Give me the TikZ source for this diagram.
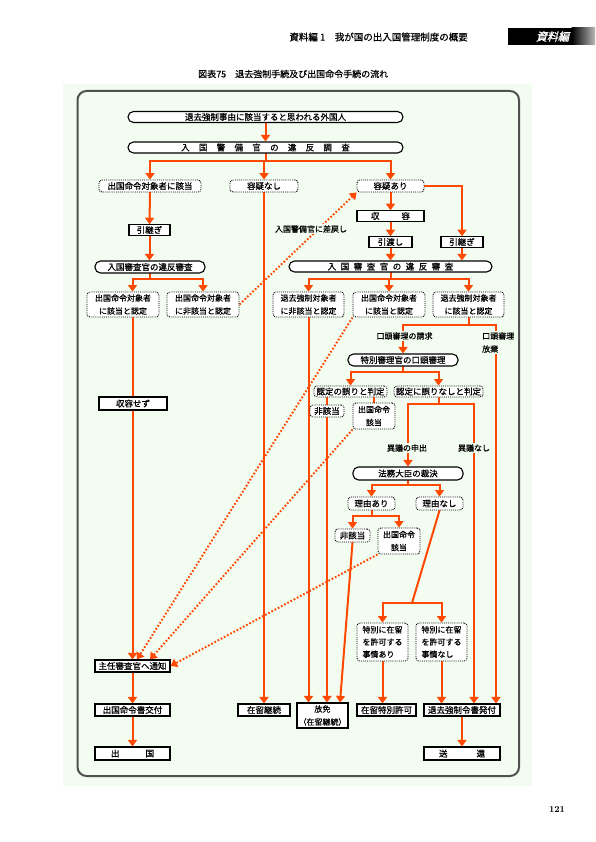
\documentclass[tikz,border=0pt]{standalone}
\usepackage{fontspec}
\newfontfamily\jp[FakeBold=0.6]{Noto Sans CJK JP}
\newfontfamily\jph[FakeBold=0.8]{Noto Sans CJK JP}
\newfontfamily\jpsl[FakeSlant=0.25,FakeBold=1.5]{Noto Sans CJK JP}
\usetikzlibrary{arrows.meta}
\pgfdeclarelayer{back}
\pgfdeclarelayer{lines}
\pgfsetlayers{back,lines,main}
\definecolor{bgg}{RGB}{242,252,240}
\definecolor{org}{RGB}{255,72,0}
\definecolor{frm}{RGB}{80,80,80}
\newcommand\gs{\hspace{9.3pt}}
\newcommand\gsb{\hspace{4.5pt}}
\begin{document}
\begin{tikzpicture}[x=1pt,y=-1pt,
  base/.style={font=\jp\fontsize{8.5}{12}\selectfont, inner sep=0pt, fill=white, line width=1.1pt},
  pill/.style={base, draw, rounded corners=5.5pt, minimum height=11pt},
  sbox/.style={base, draw, minimum height=12pt},
  dbox/.style={base, draw, line width=0.9pt, densely dotted, rounded corners=3pt, align=center},
  two/.style={font=\jp\fontsize{8}{13}\selectfont},
  three/.style={font=\jp\fontsize{8}{12.3}\selectfont},
  lbl/.style={font=\jp\fontsize{8}{13}\selectfont, fill=bgg, inner sep=1pt, align=center},
  ln/.style={draw=org, line width=2pt, line cap=rect},
  arr/.style={ln, -{Triangle[width=9pt,length=6.5pt]}},
  dt/.style={draw=org, line width=2pt, dash pattern=on 1.7pt off 1.9pt, -{Triangle[width=9pt,length=6.5pt]}},
]
\useasboundingbox (0,0) rectangle (595,842);
\begin{pgfonlayer}{back}
\fill[white] (0,0) rectangle (595,842);
\fill[bgg] (63,84) rectangle (532,786);
\draw[frm, line width=2pt, rounded corners=9pt] (77.5,91) rectangle (519,776);
\fill[black] (508,28) rectangle (572,45);
\shade[left color=black, right color=gray!55] (571.5,28) rectangle (595,45);
\end{pgfonlayer}

% header
\node[font=\jph\fontsize{9.5}{11}\selectfont, anchor=east, inner sep=0] (hdr) at (468,37) {資料編 1　我が国の出入国管理制度の概要};
\node[font=\jpsl\fontsize{11}{12}\selectfont, text=white, inner sep=0] (tab) at (552.5,36.5) {資料編};
\node[font=\jp\fontsize{9}{11}\selectfont, anchor=west, inner sep=0] (ttl) at (198,74) {図表75　退去強制手続及び出国命令手続の流れ};
\node[font=\fontsize{9}{11}\selectfont\bfseries, inner sep=0] (pg) at (557,810) {121};

% nodes
\node[pill, minimum width=275pt] (top) at (265.5,117) {退去強制事由に該当すると思われる外国人};
\node[pill, minimum width=275pt] (keibi) at (265.5,147.5) {入\gs 国\gs 警\gs 備\gs 官\gs の\gs 違\gs 反\gs 調\gs 査};
\node[dbox, minimum width=102pt, minimum height=12pt] (Ltop) at (150,186) {出国命令対象者に該当};
\node[dbox, minimum width=68pt, minimum height=12pt] (nashi) at (264,186) {容疑なし};
\node[dbox, minimum width=67pt, minimum height=12pt] (ari) at (390.5,186) {容疑あり};
\node[sbox, minimum width=41pt, minimum height=10.5pt] (hkL) at (149.5,230) {引継ぎ};
\node[sbox, minimum width=67pt, minimum height=10.5pt] (shuyo) at (390.5,216) {収\hspace{22pt}容};
\node[sbox, minimum width=43pt, minimum height=10.5pt] (hkw) at (390.5,242) {引渡し};
\node[sbox, minimum width=42pt, minimum height=10.5pt] (hkR) at (462,242) {引継ぎ};
\node[pill, minimum width=110pt, minimum height=12pt] (shL) at (150,267) {入国審査官の違反審査};
\node[pill, minimum width=203pt] (shM) at (390.5,266.5) {入\gsb 国\gsb 審\gsb 査\gsb 官\gsb の\gsb 違\gsb 反\gsb 審\gsb 査};

\node[dbox, two, minimum width=72pt, minimum height=25pt] (L1) at (123,304.5) {出国命令対象者\\に該当と認定};
\node[dbox, two, minimum width=72pt, minimum height=25pt] (L2) at (203,304.5) {出国命令対象者\\に非該当と認定};
\node[dbox, two, minimum width=71pt, minimum height=25pt] (M1) at (308.5,304.5) {退去強制対象者\\に非該当と認定};
\node[dbox, two, minimum width=72pt, minimum height=25pt] (M2) at (389,304.5) {出国命令対象者\\に該当と認定};
\node[dbox, two, minimum width=71pt, minimum height=25pt] (M3) at (468.5,304.5) {退去強制対象者\\に該当と認定};

\node[lbl] (sashi) at (311,229) {入国警備官に差戻し};
\node[sbox, minimum width=68pt, minimum height=13pt] (sezu) at (133,403.5) {収容せず};
\node[lbl] (seikyu) at (404.5,336) {口頭審理の請求};
\node[lbl, align=left, anchor=west] (hoki) at (481,342.5) {口頭審理\\放棄};

\node[pill, minimum width=110pt, minimum height=12pt] (tok) at (403,360) {特別審理官の口頭審理};
\node[dbox, minimum width=73pt, minimum height=11pt] (n1) at (350.5,391.5) {認定の誤りと判定};
\node[dbox, minimum width=89pt, minimum height=11pt] (n2) at (438.5,391.5) {認定に誤りなしと判定};
\node[dbox, minimum width=34pt, minimum height=12pt] (hi1) at (327,411) {非該当};
\node[dbox, two, minimum width=42pt, minimum height=26pt] (sh1) at (374,416) {出国命令\\該当};
\node[lbl] (igi) at (407,448) {異議の申出};
\node[lbl] (iginashi) at (474,448) {異議なし};
\node[pill, minimum width=110pt, minimum height=13pt] (hm) at (408,473.5) {法務大臣の裁決};
\node[dbox, minimum width=47pt, minimum height=13pt] (ra) at (371.5,503.5) {理由あり};
\node[dbox, minimum width=47pt, minimum height=13pt] (rn) at (439.5,503.5) {理由なし};
\node[dbox, minimum width=35pt, minimum height=13pt] (hi2) at (352.5,535.5) {非該当};
\node[dbox, two, minimum width=42pt, minimum height=26pt] (sh2) at (399,541) {出国命令\\該当};
\node[dbox, three, align=left, minimum width=51pt, minimum height=38pt] (jA) at (382.5,642) {特別に在留\\を許可する\\事情あり};
\node[dbox, three, align=left, minimum width=51pt, minimum height=38pt] (jN) at (441.5,642) {特別に在留\\を許可する\\事情なし};

\node[sbox, minimum width=75pt] (tsu) at (132.5,666) {主任審査官へ通知};
\node[sbox, minimum width=75pt] (kofu) at (132.5,710) {出国命令書交付};
\node[sbox, minimum width=75pt, minimum height=13pt] (shk) at (132.5,753.5) {出\hspace{26pt}国};
\node[sbox, minimum width=52pt] (zk) at (264,710) {在留継続};
\node[sbox, two, align=center, minimum width=51pt, minimum height=25pt] (hmn) at (322.5,715.5) {放免\\（在留継続）};
\node[sbox, minimum width=59pt] (ztk) at (386.5,710) {在留特別許可};
\node[sbox, minimum width=76pt] (tk) at (462,710) {退去強制令書発付};
\node[sbox, minimum width=76pt, minimum height=13pt] (sk) at (462,753.5) {送\hspace{29pt}還};

\coordinate (b1) at (0,161);
\coordinate (b2) at (0,279);
\coordinate (b3) at (0,325);
\coordinate (b4) at (0,372);
\coordinate (b5) at (0,404);
\coordinate (b6) at (0,485);
\coordinate (b7) at (0,516);
\coordinate (b8) at (412,603);
\coordinate (xI) at (474,0);
\coordinate (xR) at (496,0);

\begin{pgfonlayer}{lines}
\draw[arr] (top.south) -- (keibi.north);
\draw[ln] (keibi.south) -- (keibi.south |- b1);
\draw[ln] (Ltop.north |- b1) -- (ari.north |- b1);
\draw[arr] (Ltop.north |- b1) -- (Ltop.north);
\draw[arr] (nashi.north |- b1) -- (nashi.north);
\draw[arr] (ari.north |- b1) -- (ari.north);
\draw[arr] (Ltop.south) -- (hkL.north);
\draw[arr] (hkL.south) -- (hkL.south |- shL.north);
\draw[ln] (shL.south) -- (shL.south |- b2);
\draw[ln] (tsu.north |- b2) -- (L2.north |- b2);
\draw[arr] (tsu.north |- b2) -- (tsu.north |- L1.north);
\draw[arr] (L2.north |- b2) -- (L2.north);
\draw[arr] (tsu.north |- L1.south) -- (tsu.north);
\draw[arr] (tsu.south) -- (kofu.north);
\draw[arr] (kofu.south) -- (shk.north);
\draw[arr] (nashi.south) -- (nashi.south |- zk.north);
\draw[arr] (ari.south) -- (shuyo.north);
\draw[arr] (shuyo.south) -- (hkw.north);
\draw[arr] (hkw.south) -- (shM.north);
\draw[arr] (ari.east) -| (hkR.north);
\draw[arr] (hkR.south) -- (hkR.south |- shM.north);
\draw[ln] (shM.south) -- (shM.south |- b2);
\draw[ln] (M1.north |- b2) -- (M3.north |- b2);
\draw[arr] (M1.north |- b2) -- (M1.north);
\draw[arr] (M2.north |- b2) -- (M2.north);
\draw[arr] (M3.north |- b2) -- (M3.north);
\draw[arr] (M1.south) -- (M1.south |- hmn.north);
\draw[ln] (M3.south) -- (M3.south |- b3);
\draw[ln] (tok.north |- b3) -- (xR |- b3);
\draw[arr] (tok.north |- b3) -- (tok.north);
\draw[arr] (xR |- b3) -- (xR |- tk.north);
\draw[ln] (tok.south) -- (tok.south |- b4);
\draw[ln] (n1.north |- b4) -- (n2.north |- b4);
\draw[arr] (n1.north |- b4) -- (n1.north);
\draw[arr] (n2.north |- b4) -- (n2.north);
\draw[ln] (hi1.north |- n1.south) -- (hi1.north);
\draw[ln] (sh1.north |- n1.south) -- (sh1.north);
\draw[arr] (hi1.south) -- (hi1.south |- hmn.north);
\draw[ln] (n2.south) -- (n2.south |- b5);
\draw[ln] (hm.north |- b5) -- (xI |- b5);
\draw[arr] (hm.north |- b5) -- (hm.north);
\draw[arr] (xI |- b5) -- (xI |- tk.north);
\draw[ln] (hm.south) -- (hm.south |- b6);
\draw[ln] (ra.north |- b6) -- (rn.north |- b6);
\draw[arr] (ra.north |- b6) -- (ra.north);
\draw[arr] (rn.north |- b6) -- (rn.north);
\draw[ln] (ra.south) -- (ra.south |- b7);
\draw[ln] (hi2.north |- b7) -- (sh2.north |- b7);
\draw[arr] (hi2.north |- b7) -- (hi2.north);
\draw[arr] (sh2.north |- b7) -- (sh2.north);
\draw[arr] (hi2.south) -- ([xshift=17.5pt]hmn.north);
\draw[ln] (rn.south) -- (b8);
\draw[ln] (jA.north |- b8) -- (jN.north |- b8);
\draw[arr] (jA.north |- b8) -- (jA.north);
\draw[arr] (jN.north |- b8) -- (jN.north);
\draw[arr] (jA.south) -- (jA.south |- ztk.north);
\draw[arr] (jN.south) -- (jN.south |- tk.north);
\draw[arr] (tk.south) -- (sk.north);
% dotted
\draw[dt] (L2.east) -- (ari.south west);
\draw[dt] (M2.south west) -- ([xshift=4.5pt]tsu.north);
\draw[dt] (sh1.south west) -- ([xshift=17.5pt]tsu.north);
\draw[dt] (sh2.south west) -- (tsu.east);
\end{pgfonlayer}
\end{tikzpicture}
\end{document}
